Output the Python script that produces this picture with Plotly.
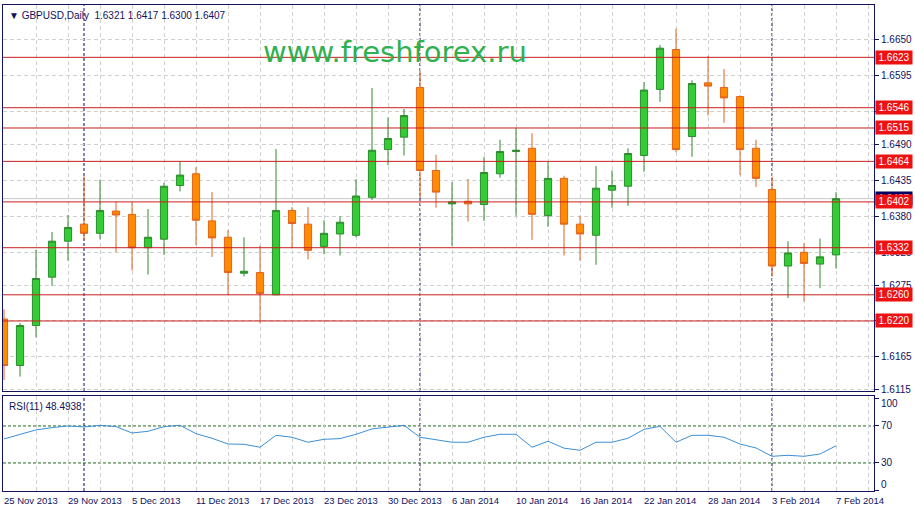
import plotly.graph_objects as go
from datetime import datetime

# ---------------- data ----------------
dates = [
    "2013-11-25", "2013-11-26", "2013-11-27", "2013-11-28", "2013-11-29",
    "2013-12-02", "2013-12-03", "2013-12-04", "2013-12-05", "2013-12-06",
    "2013-12-09", "2013-12-10", "2013-12-11", "2013-12-12", "2013-12-13",
    "2013-12-16", "2013-12-17", "2013-12-18", "2013-12-19", "2013-12-20",
    "2013-12-23", "2013-12-24", "2013-12-26", "2013-12-27", "2013-12-30",
    "2013-12-31", "2014-01-02", "2014-01-03", "2014-01-06", "2014-01-07",
    "2014-01-08", "2014-01-09", "2014-01-10", "2014-01-13", "2014-01-14",
    "2014-01-15", "2014-01-16", "2014-01-17", "2014-01-20", "2014-01-21",
    "2014-01-22", "2014-01-23", "2014-01-24", "2014-01-27", "2014-01-28",
    "2014-01-29", "2014-01-30", "2014-01-31", "2014-02-03", "2014-02-04",
    "2014-02-05", "2014-02-06", "2014-02-07",
]

opens = [1.6223, 1.6152, 1.6213, 1.6287, 1.6342, 1.6368, 1.6354, 1.6388, 1.6383, 1.6332,
         1.6345, 1.6427, 1.6445, 1.6373, 1.6348, 1.6293, 1.6294, 1.6260, 1.6389, 1.6368,
         1.6334, 1.6353, 1.6351, 1.6409, 1.6482, 1.6501, 1.6577, 1.6450, 1.6399, 1.6403,
         1.6398, 1.6445, 1.6479, 1.6484, 1.6381, 1.6438, 1.6368, 1.6351, 1.6420, 1.6426,
         1.6473, 1.6574, 1.6635, 1.6502, 1.6584, 1.6577, 1.6563, 1.6484, 1.6421, 1.6304,
         1.6325, 1.6307, 1.6321]
highs = [1.6238, 1.6217, 1.6329, 1.6356, 1.6382, 1.6441, 1.6436, 1.6402, 1.6401, 1.6391,
         1.6431, 1.6464, 1.6455, 1.6417, 1.6359, 1.6348, 1.6335, 1.6483, 1.6394, 1.6394,
         1.6374, 1.6380, 1.6437, 1.6576, 1.6531, 1.6544, 1.6602, 1.6474, 1.6432, 1.6437,
         1.6471, 1.6497, 1.6515, 1.6507, 1.6463, 1.6442, 1.6381, 1.6457, 1.6450, 1.6484,
         1.6585, 1.6642, 1.6667, 1.6588, 1.6625, 1.6605, 1.6565, 1.6497, 1.6440, 1.6342,
         1.6339, 1.6346, 1.6417]
lows = [1.6130, 1.6135, 1.6195, 1.6274, 1.6312, 1.6343, 1.6345, 1.6325, 1.6297, 1.6291,
        1.6321, 1.6418, 1.6336, 1.6318, 1.6260, 1.6288, 1.6217, 1.6260, 1.6331, 1.6314,
        1.6322, 1.6320, 1.6348, 1.6405, 1.6458, 1.6473, 1.6408, 1.6393, 1.6335, 1.6372,
        1.6373, 1.6439, 1.6381, 1.6344, 1.6364, 1.6320, 1.6312, 1.6306, 1.6393, 1.6396,
        1.6448, 1.6555, 1.6478, 1.6471, 1.6534, 1.6523, 1.6443, 1.6425, 1.6288, 1.6255,
        1.6250, 1.6270, 1.6300]
closes = [1.6152, 1.6213, 1.6285, 1.6342, 1.6363, 1.6354, 1.6389, 1.6382, 1.6332, 1.6348,
          1.6426, 1.6443, 1.6374, 1.6347, 1.6294, 1.6296, 1.6262, 1.6389, 1.6369, 1.6328,
          1.6354, 1.6371, 1.6411, 1.6481, 1.6499, 1.6534, 1.6450, 1.6417, 1.6402, 1.6399,
          1.6447, 1.6479, 1.6481, 1.6383, 1.6438, 1.6368, 1.6353, 1.6423, 1.6427, 1.6476,
          1.6573, 1.6637, 1.6482, 1.6583, 1.6579, 1.6561, 1.6482, 1.6438, 1.6304, 1.6324,
          1.6308, 1.6318, 1.6407]

rsi_values = [56.0, 61.0, 65.7, 68.2, 70.0, 68.9, 70.7, 69.3, 62.4, 64.2,
              69.3, 70.7, 61.7, 56.7, 50.5, 50.2, 47.0, 59.9, 57.8, 52.4,
              55.6, 56.3, 61.0, 66.8, 68.9, 70.7, 57.8, 54.9, 52.4, 52.4,
              57.8, 61.0, 61.0, 47.0, 53.5, 46.0, 43.7, 52.4, 52.4, 56.7,
              66.4, 69.6, 52.4, 59.9, 59.9, 57.8, 50.5, 46.2, 37.2, 38.3,
              37.2, 39.7, 48.4938]

levels = [1.6623, 1.6546, 1.6515, 1.6464, 1.6402, 1.6332, 1.6260, 1.6220]
price_ticks = [1.6650, 1.6595, 1.6540, 1.6490, 1.6435, 1.6380, 1.6325, 1.6275,
               1.6220, 1.6165, 1.6115]
rsi_ticks = [0, 30, 70, 100]
rsi_levels = [30, 70]
symbol = "GBPUSD,Daily"
rsi_name = "RSI(11)"
watermark = "www.freshforex.ru"

# ---------------- styling ----------------
NAVY = "#12125e"
GRID = "#d0d0d0"
FONT = "Liberation Sans"

idx = list(range(len(dates)))
parsed = [datetime.strptime(d, "%Y-%m-%d") for d in dates]
label_idx = idx[::4]
label_txt = [f"{parsed[i].day} {parsed[i].strftime('%b %Y')}" for i in label_idx]
month_starts = [i for i in idx[1:] if parsed[i].month != parsed[i - 1].month]

# tick labels fully hidden under a level label in the terminal are left blank
price_tick_text = ["" if any(abs(v - lv) < 0.0007 for lv in levels) and v != 1.6325
                   else f"{v:.4f}" for v in price_ticks]
# RSI end labels (0 / 100) are drawn nudged inside the panel, as the terminal does
rsi_tick_text = ["" if v in (0, 100) else str(v) for v in rsi_ticks]

fig = go.Figure()
fig.add_trace(go.Candlestick(
    x=idx, open=opens, high=highs, low=lows, close=closes,
    increasing=dict(line=dict(color="#2f8a2f", width=1), fillcolor="#32cd32"),
    decreasing=dict(line=dict(color="#e2621e", width=1), fillcolor="#ff8c00"),
    whiskerwidth=0, xaxis="x", yaxis="y", showlegend=False, hoverinfo="skip",
))
fig.add_trace(go.Scatter(
    x=idx, y=rsi_values, mode="lines", line=dict(color="#3b8fd6", width=1),
    xaxis="x2", yaxis="y2", showlegend=False, hoverinfo="skip",
))

xr = [-0.0625, 54.375]
common_x = dict(range=xr, tickmode="linear", tick0=0, dtick=2, showticklabels=False,
                ticks="", showgrid=True, gridcolor=GRID, griddash="4px,3px", gridwidth=1,
                showline=True, linecolor=NAVY, linewidth=1, mirror=True, zeroline=False,
                automargin=False)
fig.update_layout(
    width=915, height=511,
    margin=dict(l=3, r=41, t=5, b=20, autoexpand=False),
    paper_bgcolor="white", plot_bgcolor="white",
    boxgap=0.36,
    font=dict(family=FONT, size=10, color=NAVY),
    xaxis=dict(domain=[0, 1], anchor="y", rangeslider=dict(visible=False), **common_x),
    xaxis2=dict(domain=[0, 1], anchor="y2", **common_x),
    yaxis=dict(domain=[0.2058, 1], anchor="x", side="right", range=[1.6113, 1.6703],
               tickmode="array", tickvals=price_ticks, ticktext=price_tick_text,
               ticks="outside", ticklen=4, tickcolor=NAVY,
               tickfont=dict(family=FONT, size=10, color=NAVY),
               showgrid=True, gridcolor=GRID, griddash="4px,3px", gridwidth=1,
               showline=True, linecolor=NAVY, linewidth=1, mirror=True, zeroline=False,
               automargin=False),
    yaxis2=dict(domain=[0, 0.1955], anchor="x2", side="right", range=[-0.3, 102.4],
                tickmode="array", tickvals=rsi_ticks, ticktext=rsi_tick_text,
                ticks="outside", ticklen=4,
                tickcolor=NAVY, tickfont=dict(family=FONT, size=10, color=NAVY),
                showgrid=False, showline=True, linecolor=NAVY, linewidth=1,
                mirror=True, zeroline=False, automargin=False),
)

shapes = []
# current price (bid) line
shapes.append(dict(type="line", xref="x domain", x0=0, x1=1, yref="y",
                   y0=closes[-1], y1=closes[-1], line=dict(color="#c8c8c8", width=1),
                   layer="below"))
# month separators
for m in month_starts:
    shapes.append(dict(type="line", xref="x", x0=m, x1=m, yref="y domain", y0=0, y1=1,
                       line=dict(color="#0a0a5a", width=1, dash="3px,2px"), layer="below"))
    shapes.append(dict(type="line", xref="x2", x0=m, x1=m, yref="y2 domain", y0=0, y1=1,
                       line=dict(color="#0a0a5a", width=1, dash="3px,2px"), layer="below"))
# RSI levels
for lv in rsi_levels:
    shapes.append(dict(type="line", xref="x2 domain", x0=0, x1=1, yref="y2",
                       y0=lv, y1=lv, line=dict(color="#1f6a1f", width=1, dash="3px,2px"),
                       layer="below"))
# horizontal price levels
for lv in levels:
    shapes.append(dict(type="line", xref="x domain", x0=0, x1=1, yref="y",
                       y0=lv, y1=lv, line=dict(color="#c81e1e", width=1),
                       layer="above"))
fig.update_layout(shapes=shapes)

ann = []
ann.append(dict(xref="paper", yref="paper", x=0, y=1, xanchor="left", yanchor="top",
                xshift=4, yshift=-3, showarrow=False,
                text=f"\u25BC {symbol}  {opens[-1]:.4f} {highs[-1]:.4f} {lows[-1]:.4f} {closes[-1]:.4f}",
                font=dict(family=FONT, size=10, color=NAVY)))
ann.append(dict(xref="paper", yref="y2 domain", x=0, y=1, xanchor="left", yanchor="top",
                xshift=4, yshift=-3, showarrow=False,
                text=f"{rsi_name} {rsi_values[-1]:.4f}",
                font=dict(family=FONT, size=10, color=NAVY)))
ann.append(dict(xref="paper", yref="paper", x=0.45, y=0.942, showarrow=False,
                text=watermark, font=dict(family="DejaVu Sans", size=29, color="#2fb14f")))
# RSI end labels
ann.append(dict(xref="paper", yref="y2", x=1, y=100, xanchor="left", yanchor="top",
                xshift=5, yshift=2, showarrow=False, text="100",
                font=dict(family=FONT, size=10, color=NAVY)))
ann.append(dict(xref="paper", yref="y2", x=1, y=0, xanchor="left", yanchor="bottom",
                xshift=5, yshift=-1, showarrow=False, text="0",
                font=dict(family=FONT, size=10, color=NAVY)))
# date labels, left aligned at their bar
for i, t in zip(label_idx, label_txt):
    ann.append(dict(xref="x2", yref="paper", x=i, y=0, xanchor="left", yanchor="top",
                    yshift=-2, xshift=-2, showarrow=False, text=t,
                    font=dict(family=FONT, size=9.5, color=NAVY)))
# current price label
ann.append(dict(xref="paper", yref="y", x=1, y=closes[-1], xanchor="left", yanchor="middle",
                xshift=1, showarrow=False, text=f"{closes[-1]:.4f}", bgcolor="#000060",
                font=dict(family=FONT, size=10, color="white"), width=34, borderpad=1))
for lv in levels:
    ann.append(dict(xref="paper", yref="y", x=1, y=lv, xanchor="left", yanchor="middle",
                    xshift=1, showarrow=False, text=f"{lv:.4f}", bgcolor="#ee1111",
                    font=dict(family=FONT, size=10, color="white"), width=34, borderpad=1))
fig.update_layout(annotations=ann)

fig.write_html("out.html", config={"displayModeBar": False},
               post_script="document.body.style.margin='0';")
